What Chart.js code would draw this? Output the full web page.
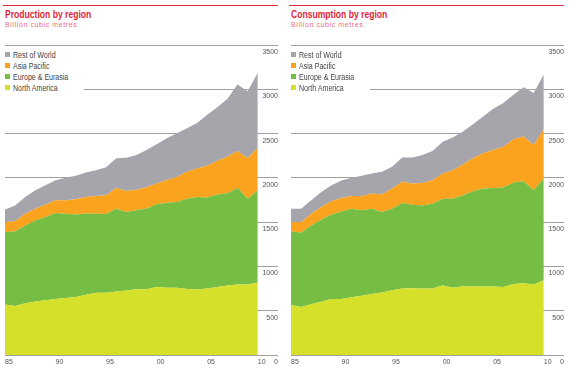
<!DOCTYPE html>
<html>
<head>
<meta charset="utf-8">
<script src="https://cdn.jsdelivr.net/npm/chart.js@4/dist/chart.umd.min.js"></script>
<style>
body{margin:0;width:570px;height:370px;background:#fff;overflow:hidden;font-family:"Liberation Sans",Arial,sans-serif}
.panel{position:absolute;top:0;width:285px;height:370px}
.rule{position:absolute;left:3px;top:5px;width:275px;height:1px;background:#e8283c}
.title{position:absolute;left:5px;top:9px;font-size:11px;font-weight:bold;color:#e31e36;line-height:11px;transform:scaleX(0.78);transform-origin:0 0;white-space:nowrap}
.sub{position:absolute;left:5px;top:21px;font-size:7px;letter-spacing:0.6px;color:#ee6a80;line-height:7px;white-space:nowrap}
.legend{position:absolute;left:0;top:50px;width:84px;height:46px;background:#fff;padding-left:5px;box-sizing:border-box;font-size:8.5px;color:#444;z-index:2}
.legend div{height:11px;line-height:11px;white-space:nowrap}
.legend span{display:inline-block;width:5px;height:5px;margin-right:3px;vertical-align:1px}
.legend i{font-style:normal;display:inline-block;transform:scaleX(0.83);transform-origin:0 50%}
canvas{position:absolute;left:0;top:0}
</style>
</head>
<body>
<div class="panel" id="p1" style="left:0">
  <div class="rule"></div>
  <div class="title">Production by region</div>
  <div class="sub">Billion cubic metres</div>
  <div class="legend" id="leg1"></div>
  <canvas id="prodChart" width="285" height="370"></canvas>
</div>
<div class="panel" id="p2" style="left:286px">
  <div class="rule"></div>
  <div class="title">Consumption by region</div>
  <div class="sub">Billion cubic metres</div>
  <div class="legend" id="leg2"></div>
  <canvas id="consChart" width="285" height="370"></canvas>
</div>
<script>
const years = [1985,1986,1987,1988,1989,1990,1991,1992,1993,1994,1995,1996,1997,1998,1999,2000,2001,2002,2003,2004,2005,2006,2007,2008,2009,2010];

// production, billion cubic metres
const prodNorthAmerica = [571,552,583,605,617,632,643,654,681,704,704,716,727,742,742,769,758,758,746,739,750,769,784,795,795,818];
const prodEurope = [815,846,879,914,940,970,952,933,917,891,887,935,887,891,913,932,962,969,1019,1045,1027,1042,1042,1091,970,1042];
const prodAsiaPacific = [114,113,133,132,140,144,151,171,186,200,212,235,238,234,239,235,257,284,303,322,359,382,413,417,455,481];
const prodRestOfWorld = [144,178,189,209,220,228,254,265,277,292,318,334,375,391,421,443,470,493,493,512,576,603,655,750,757,845];

// consumption, billion cubic metres
const consNorthAmerica = [564,542,572,602,633,633,652,670,689,705,731,750,754,750,750,784,758,777,773,773,773,769,803,811,795,845];
const consEurope = [830,841,890,928,954,988,999,963,962,909,920,966,943,939,958,981,1007,1026,1076,1106,1113,1121,1144,1151,1065,1147];
const consAsiaPacific = [106,117,133,140,148,152,144,159,171,197,228,239,239,254,266,284,322,349,371,398,429,462,489,504,511,557];
const consRestOfWorld = [152,152,151,171,182,197,205,231,227,257,246,276,295,315,329,360,368,371,386,416,465,493,503,557,587,618];

const seriesNames = ['North America', 'Europe & Eurasia', 'Asia Pacific', 'Rest of World'];
const seriesColors = ['#d5e02a', '#76bd43', '#fba31f', '#a5a5ab'];
const yTicks = [0, 500, 1000, 1500, 2000, 2500, 3000, 3500];
const xTicks = [1985, 1990, 1995, 2000, 2005, 2010];

const tickFont = {family: '"Liberation Sans",Arial,sans-serif', size: 7};

function makeLegend(id){
    let el = document.getElementById(id);
    for(let i = seriesNames.length - 1; i >= 0; i--){
        let row = document.createElement('div');
        row.innerHTML = '<span style="background:' + seriesColors[i] + '"></span><i>' + seriesNames[i] + '</i>';
        el.appendChild(row);
    }
}

function makeChart(id, series){
    let datasets = [];
    for(let s = 0; s < series.length; s++){
        datasets.push({
            label: seriesNames[s],
            data: years.map((yr, i) => ({x: yr, y: series[s][i]})),
            backgroundColor: seriesColors[s],
            borderWidth: 0,
            pointRadius: 0,
            tension: 0,
            fill: s === 0 ? 'origin' : '-1'
        });
    }
    new Chart(id, {
        type: 'line',
        data: {datasets: datasets},
        options: {
            responsive: false,
            animation: false,
            layout: {padding: {left: 5, right: 7, top: 45, bottom: 0}},
            plugins: {
                legend: {display: false},
                tooltip: {enabled: false}
            },
            scales: {
                x: {
                    type: 'linear',
                    min: 1985,
                    max: 2012,
                    afterBuildTicks: s => { s.ticks = xTicks.map(v => ({value: v})) },
                    afterFit: s => { s.height = 15 },
                    grid: {display: false, drawTicks: false},
                    border: {display: false},
                    ticks: {
                        align: 'start',
                        padding: 3,
                        color: '#555',
                        font: tickFont,
                        maxRotation: 0,
                        autoSkip: false,
                        callback: v => String(v).slice(2)
                    }
                },
                y: {
                    position: 'right',
                    stacked: true,
                    min: 0,
                    max: 3500,
                    afterBuildTicks: s => { s.ticks = yTicks.map(v => ({value: v})) },
                    afterFit: s => { s.width = 0 },
                    grid: {color: '#a0a0a0', lineWidth: 1, drawTicks: false},
                    border: {display: false},
                    ticks: {
                        mirror: true,
                        padding: 0,
                        labelOffset: 7,
                        color: '#555',
                        font: tickFont,
                        callback: v => String(v)
                    }
                }
            }
        }
    });
}

makeLegend('leg1');
makeLegend('leg2');
makeChart('prodChart', [prodNorthAmerica, prodEurope, prodAsiaPacific, prodRestOfWorld]);
makeChart('consChart', [consNorthAmerica, consEurope, consAsiaPacific, consRestOfWorld]);
</script>
</body>
</html>
